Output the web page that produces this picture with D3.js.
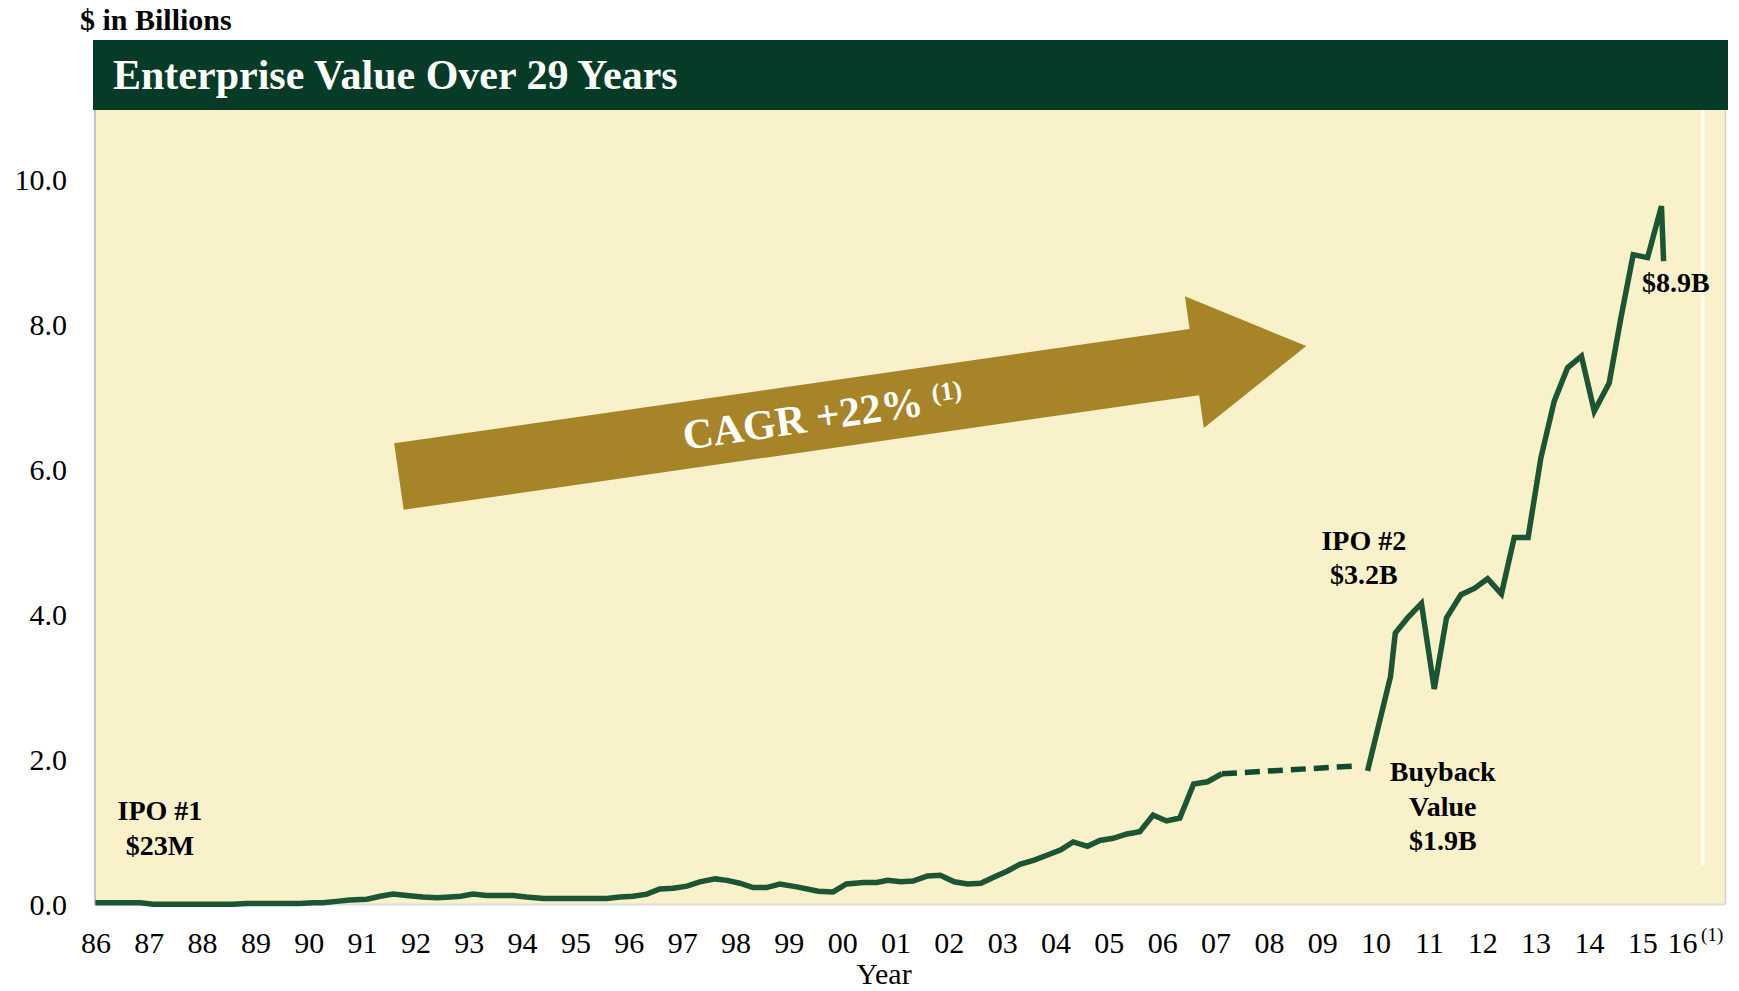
<!DOCTYPE html>
<html><head><meta charset="utf-8">
<script src="https://cdn.jsdelivr.net/npm/d3@7"></script>
<style>
body{margin:0;background:#fff}
svg{display:block}
text{font-family:"Liberation Serif","Times New Roman",serif}
</style>
</head><body>
<svg id="chart" width="1739" height="991"></svg>
<script>
// ---------- DATA ----------
const yearTicks = d3.range(1986, 2017);
const yearLabels = ["86","87","88","89","90","91","92","93","94","95","96","97","98","99","00","01","02","03","04","05","06","07","08","09","10","11","12","13","14","15","16"];
const valueTicks = [0, 2, 4, 6, 8, 10];

// Enterprise value ($B), public era after IPO #1
const ipoEraYears = [1986.0,1986.25,1986.5,1986.84,1987.08,1987.33,1987.58,1987.83,1988.08,1988.33,1988.58,1988.83,1989.08,1989.33,1989.58,1989.83,1990.08,1990.27,1990.52,1990.77,1991.09,1991.34,1991.58,1991.84,1992.14,1992.4,1992.65,1992.85,1993.08,1993.33,1993.58,1993.83,1994.08,1994.4,1994.77,1995.08,1995.33,1995.59,1995.83,1996.08,1996.34,1996.58,1996.83,1997.09,1997.33,1997.62,1997.84,1998.08,1998.33,1998.58,1998.83,1999.15,1999.55,1999.83,2000.08,2000.4,2000.65,2000.85,2001.1,2001.33,2001.6,2001.84,2002.1,2002.35,2002.6,2002.83,2003.1,2003.33,2003.6,2003.85,2004.1,2004.33,2004.6,2004.83,2005.08,2005.34,2005.58,2005.83,2006.08,2006.33,2006.59,2006.85,2007.12];
const ipoEraValues = [0.03,0.03,0.03,0.03,0.01,0.01,0.01,0.01,0.01,0.01,0.01,0.02,0.02,0.02,0.02,0.02,0.03,0.03,0.05,0.07,0.08,0.12,0.15,0.13,0.11,0.10,0.11,0.12,0.15,0.13,0.13,0.13,0.11,0.09,0.09,0.09,0.09,0.09,0.11,0.12,0.15,0.22,0.23,0.26,0.32,0.36,0.34,0.30,0.24,0.24,0.29,0.25,0.19,0.18,0.29,0.31,0.31,0.34,0.32,0.33,0.40,0.41,0.32,0.29,0.30,0.38,0.47,0.56,0.62,0.69,0.76,0.87,0.81,0.89,0.92,0.98,1.01,1.24,1.16,1.20,1.67,1.70,1.81];

// Private period (buyback) shown dashed
const buybackGapYears = [2007.12, 2009.68];
const buybackGapValues = [1.81, 1.92];

// After IPO #2
const postIpoYears = [2009.85,2010.28,2010.37,2010.6,2010.86,2011.1,2011.33,2011.6,2011.86,2012.1,2012.36,2012.6,2012.86,2013.1,2013.35,2013.6,2013.86,2014.1,2014.38,2014.6,2014.83,2015.1,2015.36,2015.4];
const postIpoValues = [1.85,3.15,3.75,3.96,4.16,2.98,3.96,4.28,4.37,4.50,4.29,5.07,5.07,6.17,6.95,7.41,7.57,6.81,7.20,8.10,8.97,8.93,9.64,8.88];

// Annotations (anchored in data space)
const noteLines = [["IPO #1","$23M"],["IPO #2","$3.2B"],["Buyback","Value","$1.9B"],["$8.9B"]];
const noteYears = [1987.21, 2009.78, 2011.26, 2015.63];
const noteValues = [1.30, 5.03, 1.84, 8.58];

// CAGR arrow: tail centre -> tip (data space)
const cagrArrowYears = [1991.69, 2008.70];
const cagrArrowValues = [5.91, 7.71];
const cagrText = "CAGR +22%";

// ---------- LAYOUT ----------
const svg = d3.select("#chart");
const plot = {left: 95, right: 1725, top: 110, bottom: 904};
const x = d3.scaleLinear().domain([1986, 2016]).range([95.4, 95.4 + 30 * 53.34]);
const y = d3.scaleLinear().domain([0, 10]).range([905, 180]);

// "$ in Billions"
svg.append("text").attr("x", 80).attr("y", 30)
  .attr("font-size", 30).attr("font-weight", "bold").attr("fill", "#000")
  .text("$ in Billions");

// Title bar
svg.append("rect").attr("x", 93).attr("y", 40).attr("width", 1635).attr("height", 70).attr("fill", "#063b27");
svg.append("text").attr("x", 113).attr("y", 89)
  .attr("font-size", 42).attr("font-weight", "bold").attr("fill", "#fff")
  .text("Enterprise Value Over 29 Years");

// Plot background
svg.append("rect").attr("x", plot.left).attr("y", plot.top)
  .attr("width", plot.right - plot.left).attr("height", plot.bottom - plot.top)
  .attr("fill", "#f9f1c9");
svg.append("line").attr("x1", plot.left).attr("x2", plot.left).attr("y1", plot.top).attr("y2", 905)
  .attr("stroke", "#c4c4c4").attr("stroke-width", 2);
svg.append("line").attr("x1", plot.left).attr("x2", plot.right).attr("y1", 904.5).attr("y2", 904.5)
  .attr("stroke", "#dcdcdc").attr("stroke-width", 2);
svg.append("line").attr("x1", 1703).attr("x2", 1703).attr("y1", plot.top).attr("y2", 865)
  .attr("stroke", "#ffffff").attr("stroke-width", 3);
svg.append("line").attr("x1", plot.right + 0.5).attr("x2", plot.right + 0.5).attr("y1", plot.top).attr("y2", 904)
  .attr("stroke", "#cfcfcf").attr("stroke-width", 1.5);

// Y axis
const yAxis = svg.append("g").attr("transform", `translate(${plot.left},0)`)
  .call(d3.axisLeft(y).tickValues(valueTicks).tickSize(0).tickPadding(28).tickFormat(d3.format(".1f")));
yAxis.select(".domain").remove();
yAxis.selectAll("text").attr("font-size", 30).attr("fill", "#000")
  .attr("font-family", "'Liberation Serif','Times New Roman',serif");

// X axis
const xAxis = svg.append("g").attr("transform", "translate(0,905)")
  .call(d3.axisBottom(x).tickValues(yearTicks).tickSize(0).tickPadding(27)
    .tickFormat((d, i) => yearLabels[i]));
xAxis.select(".domain").remove();
xAxis.selectAll("text").attr("font-size", 30).attr("fill", "#000")
  .attr("font-family", "'Liberation Serif','Times New Roman',serif");
// last label is squeezed next to "15" and footnoted
const lastShift = -13.5;
xAxis.selectAll(".tick").filter(d => d === 2016).select("text").attr("dx", lastShift);
svg.append("text").attr("x", x(2016) + lastShift + 19).attr("y", 941)
  .attr("font-size", 19).attr("fill", "#000").text("(1)");

svg.append("text").attr("x", x(1986) + (884 - 95.4)).attr("y", 984)
  .attr("text-anchor", "middle").attr("font-size", 30).attr("fill", "#000").text("Year");

// CAGR arrow
{
  const x0 = x(cagrArrowYears[0]), y0 = y(cagrArrowValues[0]);
  const x1 = x(cagrArrowYears[1]), y1 = y(cagrArrowValues[1]);
  const L = Math.hypot(x1 - x0, y1 - y0);
  const ang = Math.atan2(y1 - y0, x1 - x0) * 180 / Math.PI;
  const sh = 33.5, hh = 66.5, hl = 113;
  const ga = svg.append("g").attr("transform", `translate(${x0},${y0}) rotate(${ang})`);
  ga.append("path")
    .attr("d", `M0,${-sh}L${L - hl},${-sh}L${L - hl},${-hh}L${L},0L${L - hl},${hh}L${L - hl},${sh}L0,${sh}Z`)
    .attr("fill", "#a88428");
  const t = ga.append("text").attr("x", 287).attr("y", 0).attr("dy", "0.34em")
    .attr("font-size", 42).attr("font-weight", "bold").attr("fill", "#fff");
  t.append("tspan").text(cagrText);
  t.append("tspan").attr("dx", 10).attr("dy", -12).attr("font-size", 26).text("(1)");
}

// Lines
const line = d3.line().x(d => x(d[0])).y(d => y(d[1]));
svg.append("path").datum(d3.zip(ipoEraYears, ipoEraValues)).attr("d", line)
  .attr("fill", "none").attr("stroke", "#1b5533").attr("stroke-width", 5.5).attr("stroke-linejoin", "miter");
svg.append("path").datum(d3.zip(buybackGapYears, buybackGapValues)).attr("d", line)
  .attr("fill", "none").attr("stroke", "#0f4a31").attr("stroke-width", 5.5).attr("stroke-dasharray", "15,8");
svg.append("path").datum(d3.zip(postIpoYears, postIpoValues)).attr("d", line)
  .attr("fill", "none").attr("stroke", "#1b5533").attr("stroke-width", 5.5).attr("stroke-linejoin", "miter");

// Annotations
noteLines.forEach((lines, i) => {
  const tx = svg.append("text").attr("text-anchor", "middle")
    .attr("font-size", 28).attr("font-weight", "bold").attr("fill", "#000");
  lines.forEach((s, j) => {
    tx.append("tspan").attr("x", x(noteYears[i])).attr("y", y(noteValues[i]) + j * 34.5)
      .attr("dy", "0.34em").text(s);
  });
});
</script>
</body></html>
